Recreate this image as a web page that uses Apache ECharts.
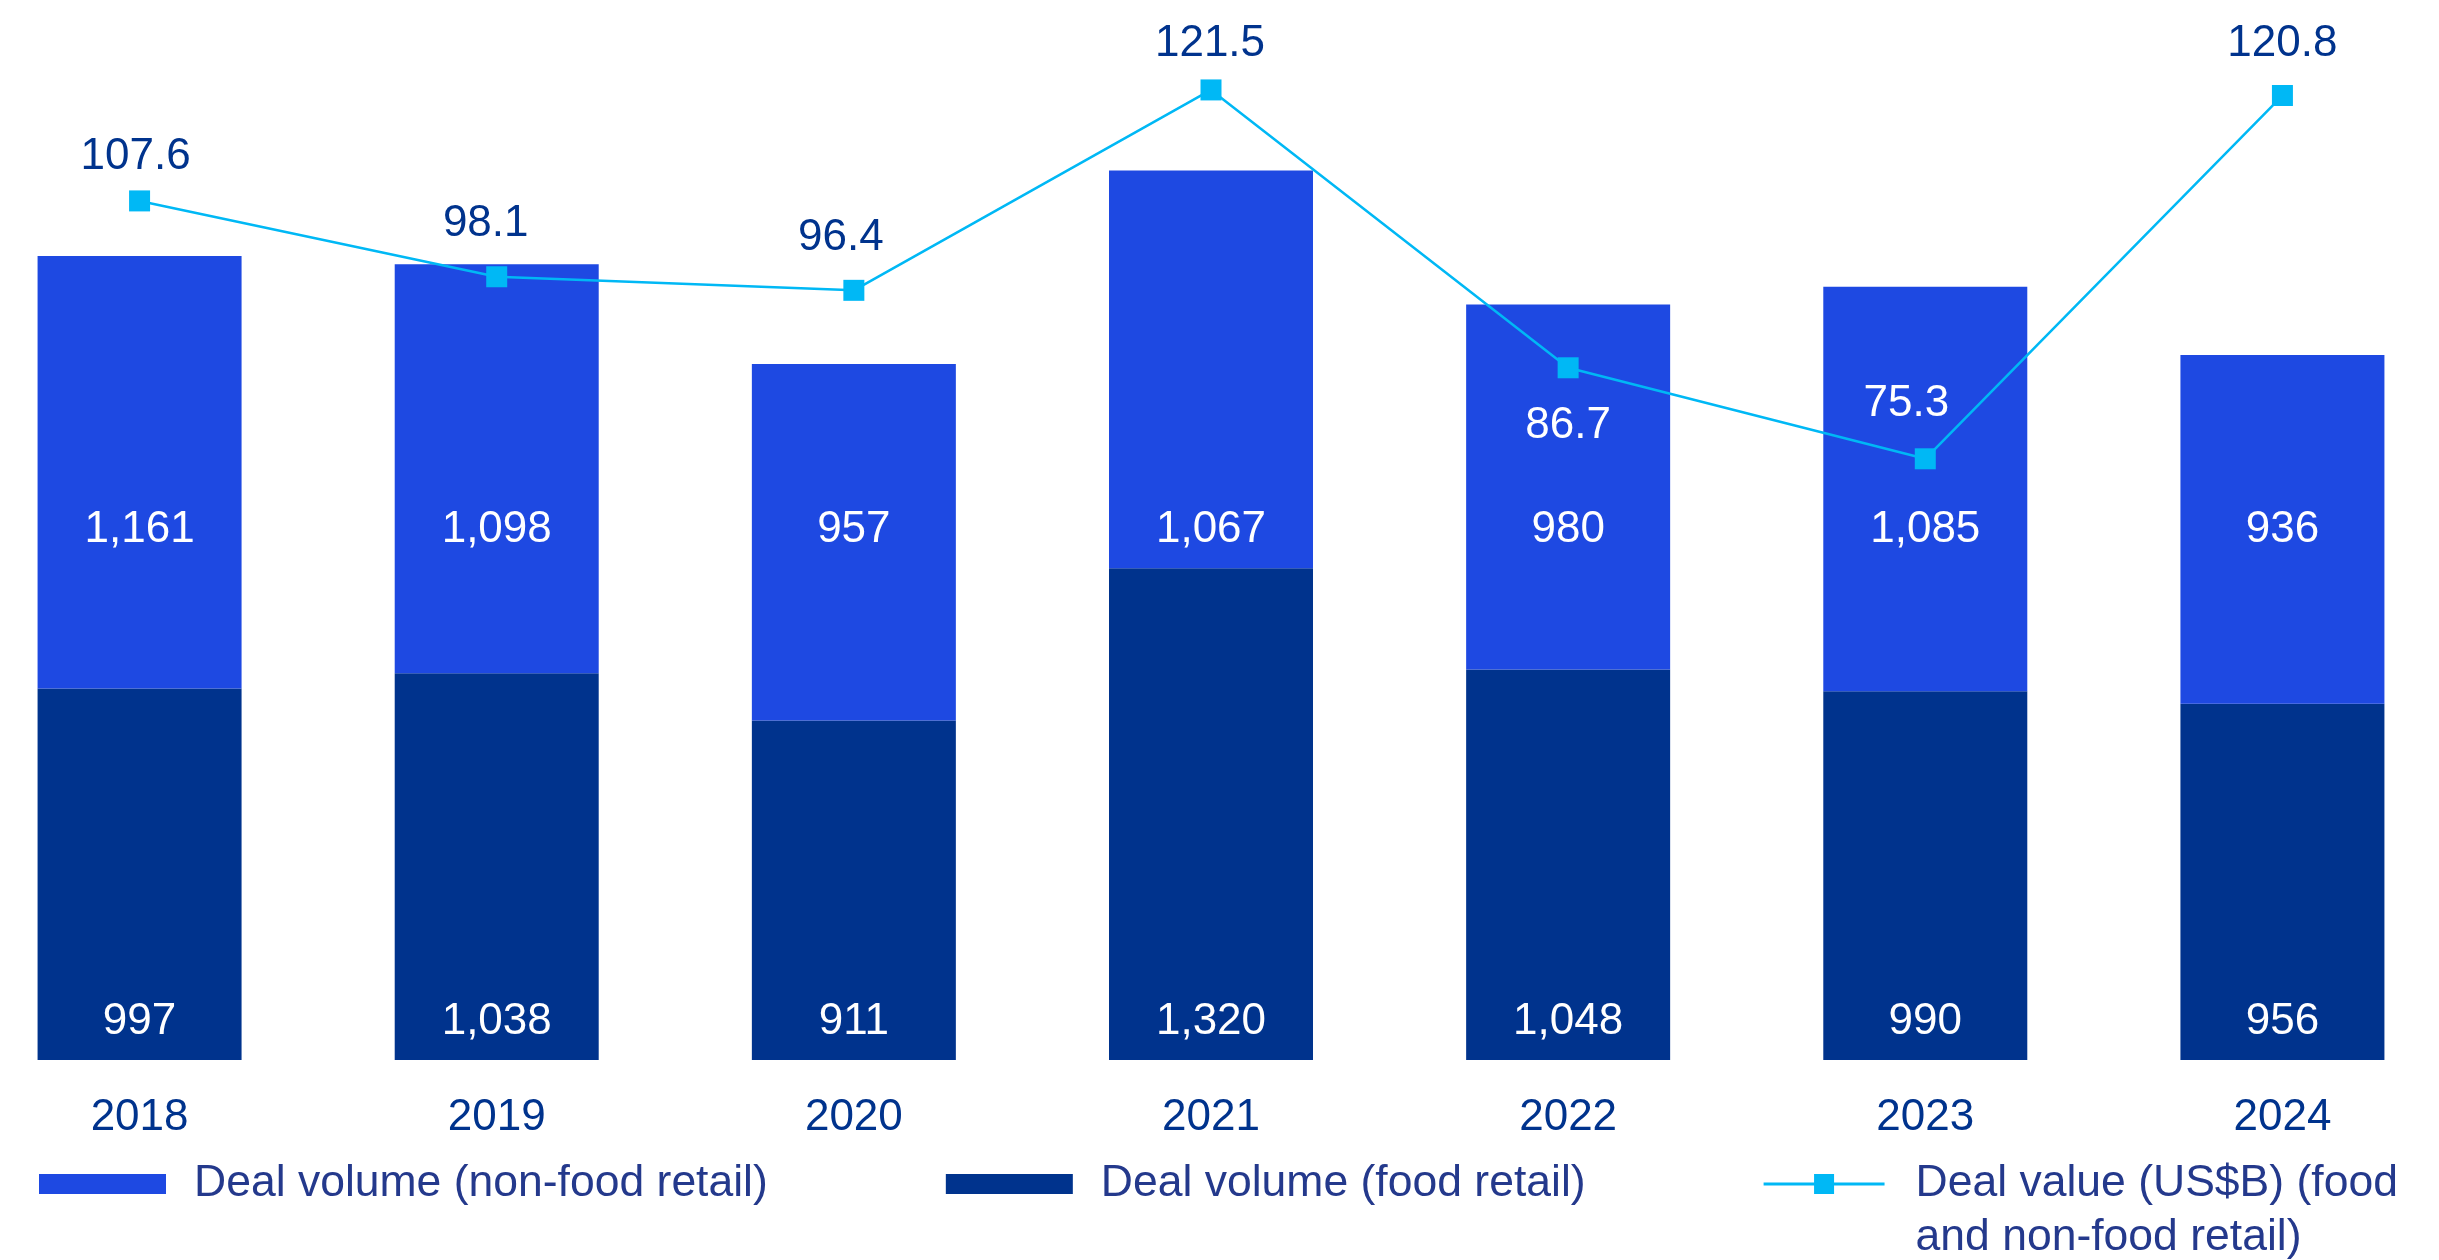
<!DOCTYPE html>
<html>
<head>
<meta charset="utf-8">
<title>Retail deal volume and value, 2018–2024</title>
<script src="https://cdn.jsdelivr.net/npm/echarts@6/dist/echarts.min.js"></script>
<style>
  html, body { margin: 0; padding: 0; background: #ffffff; overflow: hidden; width: 2439px; height: 1260px; }
  /* the plot bands run a little past both page edges, so the canvas is wider than the page */
  #chart { position: absolute; left: -39px; top: 0; width: 2500px; height: 1260px; }
</style>
</head>
<body>
<div id="chart"></div>
<script>
// Years on the category axis
var years = ['2018', '2019', '2020', '2021', '2022', '2023', '2024'];

// Deal counts per year
var nonFoodVolume = [1161, 1098, 957, 1067, 980, 1085, 936];
var foodVolume = [997, 1038, 911, 1320, 1048, 990, 956];

// Combined deal value, US$ billions
var dealValue = [107.6, 98.1, 96.4, 121.5, 86.7, 75.3, 120.8];

var NAVY = '#00338D';
var NONFOOD_BLUE = '#1E49E2';
var FOOD_BLUE = '#00338D';
var CYAN = '#00B8F5';
var FONT = '"Liberation Sans", Arial, Helvetica, sans-serif';

var GRID_TOP = 54;
var GRID_BOTTOM = 200;
// non-food counts sit on one common baseline, this far above the axis
var NONFOOD_LABEL_LIFT = 530;

var VALUE_NAME = 'Deal value (US$B) (food\nand non-food retail)';

// legend key for the value line: a thin rule with a square on it
var LINE_KEY_ICON = 'path://M0,9L127,9L127,12L0,12Z M53,0L74,0L74,21L53,21Z';

// hand placement of the deal-value labels, per year
var valueLabelStyle = [
  { offset: [-4, 8] },
  { offset: [-11, 0] },
  { offset: [-13, 0] },
  { offset: [-1, 6] },
  { position: 'bottom', offset: [0, 6], color: '#ffffff' },
  { offset: [-19, -2], color: '#ffffff' },
  { offset: [0, 1] }
];

function fmtCount(v) {
  return Number(v).toLocaleString('en-US');
}

var valueData = dealValue.map(function (v, i) {
  return { value: v, label: valueLabelStyle[i] };
});

var chart = echarts.init(document.getElementById('chart'), null, { renderer: 'canvas' });

var option = {
  backgroundColor: '#ffffff',
  animation: false,
  textStyle: { fontFamily: FONT },
  grid: {
    left: 0,
    right: 0,
    top: GRID_TOP,
    bottom: GRID_BOTTOM,
    containLabel: false
  },
  legend: {
    left: 78,
    top: 1103,
    padding: 0,
    itemWidth: 127,
    itemHeight: 20,
    itemGap: 178,
    selectedMode: false,
    formatter: function (name) {
      // the two-line entry keeps its first line level with the icon
      return name === VALUE_NAME ? '\n' + name : name;
    },
    textStyle: {
      fontFamily: FONT,
      fontSize: 44.5,
      color: '#24398C',
      lineHeight: 54,
      padding: [0, 0, 0, 23]
    },
    data: [
      { name: 'Deal volume (non-food retail)', icon: 'rect' },
      { name: 'Deal volume (food retail)', icon: 'rect' },
      { name: VALUE_NAME, icon: LINE_KEY_ICON, itemStyle: { color: CYAN, borderWidth: 0 } }
    ]
  },
  xAxis: {
    type: 'category',
    data: years,
    axisLine: { show: false },
    axisTick: { show: false },
    splitLine: { show: false },
    axisLabel: {
      margin: 36,
      fontFamily: FONT,
      fontSize: 44,
      color: NAVY
    }
  },
  yAxis: [
    {
      type: 'value',
      min: 0,
      max: 2700,
      show: false,
      splitLine: { show: false }
    },
    {
      type: 'value',
      min: 0,
      max: 126,
      show: false,
      splitLine: { show: false }
    }
  ],
  series: [
    {
      name: 'Deal volume (food retail)',
      type: 'bar',
      stack: 'volume',
      yAxisIndex: 0,
      barWidth: 204,
      data: foodVolume,
      itemStyle: { color: FOOD_BLUE },
      label: {
        show: true,
        position: 'insideBottom',
        distance: 16,
        fontFamily: FONT,
        fontSize: 44,
        color: '#ffffff',
        formatter: function (p) { return fmtCount(p.value); }
      },
      z: 2
    },
    {
      name: 'Deal volume (non-food retail)',
      type: 'bar',
      stack: 'volume',
      yAxisIndex: 0,
      barWidth: 204,
      data: nonFoodVolume,
      itemStyle: { color: NONFOOD_BLUE },
      label: {
        show: true,
        position: 'inside',
        fontFamily: FONT,
        fontSize: 44,
        color: '#ffffff',
        formatter: function (p) { return fmtCount(p.value); }
      },
      labelLayout: function (params) {
        var axisY = chart.getHeight() - GRID_BOTTOM;
        return {
          x: params.rect.x + params.rect.width / 2,
          y: axisY - NONFOOD_LABEL_LIFT,
          align: 'center',
          verticalAlign: 'middle'
        };
      },
      z: 2
    },
    {
      name: VALUE_NAME,
      type: 'line',
      yAxisIndex: 1,
      data: valueData,
      symbol: 'rect',
      symbolSize: 21,
      lineStyle: { color: CYAN, width: 2.5 },
      itemStyle: { color: CYAN },
      label: {
        show: true,
        position: 'top',
        distance: 20,
        fontFamily: FONT,
        fontSize: 44,
        color: NAVY,
        formatter: function (p) { return p.value.toFixed(1); }
      },
      z: 5
    }
  ]
};

chart.setOption(option);
</script>
</body>
</html>
